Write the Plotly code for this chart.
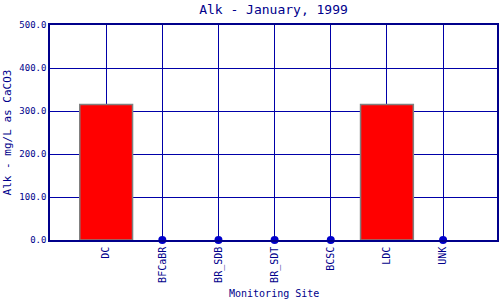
import plotly.graph_objects as go

sites = ["DC", "BFCaBR", "BR_SDB", "BR_SDT", "BCSC", "LDC", "UNK"]
alk = [315, 0, 0, 0, 0, 315, 0]
y_ticks = [0, 100, 200, 300, 400, 500]
y_tick_labels = ["0.0", "100.0", "200.0", "300.0", "400.0", "500.0"]

navy = "#00008B"
grid = "#0000A8"
font = "DejaVu Sans Mono"

zero_sites = [s for s, v in zip(sites, alk) if v == 0]
zero_vals = [v for v in alk if v == 0]

fig = go.Figure()
fig.add_trace(go.Bar(
    x=sites, y=alk, width=0.94,
    marker=dict(color="#FF0000",
                line=dict(color="#808080", width=[1.5 if v > 0 else 0 for v in alk])),
))
fig.add_trace(go.Scatter(
    x=zero_sites, y=zero_vals, mode="markers",
    marker=dict(color="#0000CC", size=8),
    cliponaxis=False,
))

fig.update_layout(
    width=500, height=300,
    margin=dict(l=50, r=3, t=25, b=60),
    paper_bgcolor="white", plot_bgcolor="white",
    showlegend=False,
    title=dict(text="Alk - January, 1999", x=0.547, xanchor="center", y=0.967, yanchor="middle",
               font=dict(family=font, size=13, color=navy)),
    font=dict(family=font, color=navy),
    annotations=[dict(text="Monitoring Site", xref="paper", yref="paper", x=0.5, y=-0.251,
                      xanchor="center", yanchor="middle", showarrow=False,
                      font=dict(family=font, size=10, color=navy))],
)
fig.update_xaxes(
    type="category", range=[-1.0, 6.96], automargin=False,
    tickangle=-90, tickfont=dict(family=font, size=10, color=navy),
    ticklabelstandoff=1,
    showgrid=True, gridcolor=grid, gridwidth=1,
    showline=True, linecolor=navy, linewidth=1.5, mirror=True,
    ticks="",
)
fig.update_yaxes(
    range=[0, 500], tickvals=y_ticks, ticktext=y_tick_labels, automargin=False,
    tickfont=dict(family=font, size=9, color=navy),
    showgrid=True, gridcolor=grid, gridwidth=1,
    showline=True, linecolor=navy, linewidth=1.5, mirror=True,
    zeroline=False, ticks="",
    title=dict(text="Alk - mg/L as CaCO3", font=dict(family=font, size=11, color=navy), standoff=6),
)
fig.write_html("out.html")
